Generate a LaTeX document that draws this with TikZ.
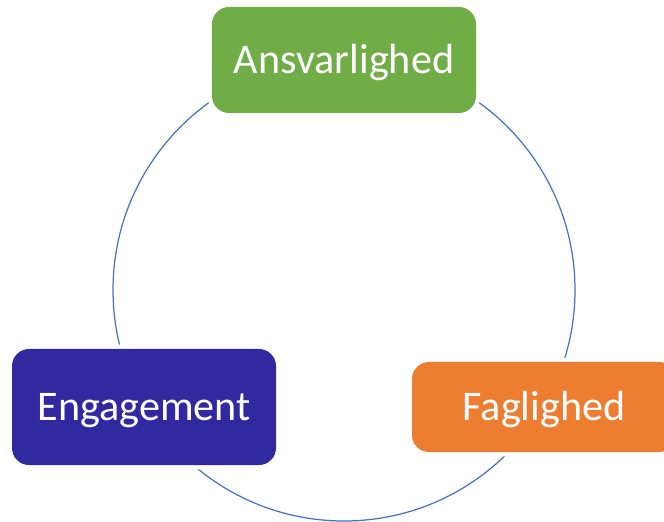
\documentclass[tikz,border=0pt]{standalone}
\usepackage{fontspec}
\setmainfont{Carlito}
\usetikzlibrary{positioning}
\definecolor{ringblue}{HTML}{4472C4}
\definecolor{boxgreen}{HTML}{70AD47}
\definecolor{boxorange}{HTML}{ED7D31}
\definecolor{boxblue}{HTML}{3129A0}
\tikzset{
  valuebox/.style={rounded corners=0.34cm, minimum width=5.28cm, text=white,
    font=\fontsize{24}{29}\selectfont, text height=15.2pt, text depth=0pt,
    preaction={draw=white, line width=5pt}}
}

\begin{document}
\begin{tikzpicture}

% fixed frame, same proportions as the original
\useasboundingbox (0,0) rectangle (13.28,10.42);

% Ring behind the three boxes
\draw[ringblue, line width=0.7pt] (6.88,4.62) circle (4.62);

% Boxes
\node[valuebox, fill=boxgreen, minimum height=2.12cm] (ansvar) at (6.88,9.22) {Ansvarlighed};
\node[valuebox, fill=boxorange, minimum height=1.8cm] (fag) at (10.88,2.28) {Faglighed};
\node[valuebox, fill=boxblue, minimum height=2.32cm] (engage) at (2.88,2.28) {Engagement};

\end{tikzpicture}
\end{document}
